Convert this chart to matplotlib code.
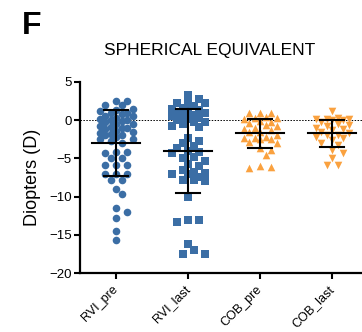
import numpy as np
from matplotlib import pyplot as plt

plt.rcParams['font.family'] = ['Liberation Sans', 'DejaVu Sans']

groups = ["RVI_pre", "RVI_last", "COB_pre", "COB_last"]

rvi_pre = [2.5, 2.5, 2.0, 2.0,
           1.5, 1.4, 1.2, 1.0, 1.0, 0.8, 0.6, 0.5, 0.3, 0.2, 0.0, 0.0, -0.1, -0.3,
           -0.5, -0.5, -0.7, -0.9, -1.0, -1.0, -1.2, -1.4, -1.5, -1.7, -1.8, -2.0,
           -2.0, -2.2, -2.5, -2.5, -2.7, -3.0,
           -4.1, -4.1, -4.3, -5.0, -5.0, -5.8, -5.8, -5.8, -7.1, -7.1, -7.1, -7.8,
           -7.8, -9.0, -9.7, -11.5, -12.0, -12.8, -14.5, -15.7]
rvi_last = [3.3, 2.8, 2.3, 2.2, 2.2, 1.9, 1.6, 1.5, 1.3, 1.2, 1.0, 0.9, 0.7, 0.5,
            0.5, 0.3, 0.2, 0.0, -0.2, -0.3, -0.5, -0.7, -0.9,
            -2.3, -2.7, -3.0, -3.4, -3.6, -4.0, -4.2, -4.3, -4.8, -5.0, -5.3, -5.7,
            -6.0, -6.5, -6.8, -6.9, -7.0, -7.1, -7.4, -7.8, -7.8, -8.0,
            -10.0, -13.0, -13.3, -13.1, -16.2, -17.0, -17.5, -17.5]
cob_pre = [0.9, 0.9, 0.9, 0.4, 0.3, 0.3, 0.2, -0.1, -0.3, -0.4, -0.6, -0.8, -1.0,
           -1.1, -1.3, -1.5, -1.6, -1.9, -2.2, -2.3, -2.3, -2.4, -2.5, -2.8, -3.0,
           -3.6, -3.9, -4.5, -6.0, -6.2, -6.1]
cob_last = [1.2, 0.3, 0.2, 0.2, 0.1, 0.0, 0.0, -0.3, -0.5, -0.6, -0.8, -1.0, -1.1,
            -1.3, -1.5, -1.7, -1.9, -2.0, -2.2, -2.3, -2.6, -3.0, -3.3, -3.9, -4.3,
            -4.9, -5.8, -5.9]

# mean and SD
means = [-3.0, -4.0, -1.73, -1.73]
sds = [4.3, 5.5, 1.95, 1.73]

data = [rvi_pre, rvi_last, cob_pre, cob_last]
markers = ["o", "s", "^", "v"]
blue = "#3b6ea5"
orange = "#faa13f"
colors = [blue, blue, orange, orange]

fig = plt.figure(figsize=(3.62, 3.32), dpi=100)
ax = fig.add_axes([80 / 362, 59 / 332, 288 / 362, 191 / 332])

px_x = 72.0   # pixels per x unit
px_y = 7.64   # pixels per diopter


def swarm(vals, step=5.5, mind=7.0, kmax=3):
    placed = []
    offs = []
    for v in vals:
        y = v * px_y
        cands = [0.0]
        for k in range(1, kmax + 1):
            cands += [k * step, -k * step]
        best = None
        bestd = -1
        for c in cands:
            d = min([np.hypot(c - px, y - py) for px, py in placed] + [99])
            if d >= mind:
                best = c
                break
            if d > bestd:
                bestd = d
                best = c
        placed.append((best, y))
        offs.append(best / px_x)
    return offs


for i in range(len(groups)):
    vals = sorted(data[i], reverse=True)
    offs = swarm(vals)
    ax.scatter(np.array(offs) + i, vals, marker=markers[i], s=30 if markers[i] != "s" else 28,
               color=colors[i], linewidths=0, zorder=2)
    m = means[i]
    s = sds[i]
    ax.plot([i - 0.335, i + 0.335], [m, m], color="black", lw=1.5, zorder=3)
    ax.plot([i, i], [m - s, m + s], color="black", lw=1.5, zorder=3)
    ax.plot([i - 0.17, i + 0.17], [m + s, m + s], color="black", lw=1.5, zorder=3)
    ax.plot([i - 0.17, i + 0.17], [m - s, m - s], color="black", lw=1.5, zorder=3)

ax.axhline(0, color="black", lw=0.7, ls=(0, (1.5, 1.5)), zorder=1)

ax.set_xlim(-0.5, 3.5)
ax.set_ylim(-20, 5)
ax.set_yticks([5, 0, -5, -10, -15, -20])
ax.set_xticks(range(len(groups)))
ax.set_xticklabels(groups, rotation=45, ha="right", va="center", rotation_mode="anchor",
                   fontsize=9)
ax.tick_params(axis="y", labelsize=9.5, width=1.5, length=4.5, pad=1.5)
ax.tick_params(axis="x", width=1.5, length=4.5, pad=6)
for side in ["top", "right"]:
    ax.spines[side].set_visible(False)
for side in ["left", "bottom"]:
    ax.spines[side].set_linewidth(1.6)
ax.set_ylabel("Diopters (D)", fontsize=13, labelpad=6)

fig.text(210 / 362, 1 - 50 / 332, "SPHERICAL EQUIVALENT", ha="center", va="center",
         fontsize=12.5)
fig.text(22 / 362, 1 - 11 / 332, "F", ha="left", va="top", fontsize=23, fontweight="bold")

fig.savefig("out.png", dpi=100)
